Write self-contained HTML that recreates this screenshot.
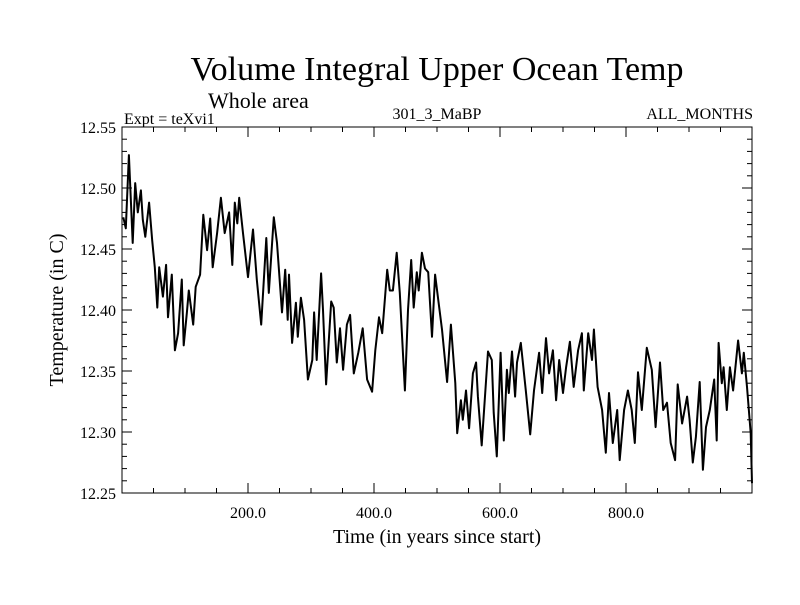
<!DOCTYPE html>
<html><head><meta charset="utf-8"><style>
body{margin:0;background:#fff}
svg text{font-family:"Liberation Serif",serif;fill:#000}
</style></head><body>
<svg id="chart" width="800" height="600" xmlns="http://www.w3.org/2000/svg">
<rect width="800" height="600" fill="#fff"/>
<text x="437" y="80" font-size="34" text-anchor="middle">Volume Integral Upper Ocean Temp</text>
<text x="208" y="108" font-size="22">Whole area</text>
<text x="124" y="124" font-size="16">Expt = teXvi1</text>
<text x="437" y="119" font-size="16" text-anchor="middle">301_3_MaBP</text>
<text x="753" y="119" font-size="16" text-anchor="end">ALL_MONTHS</text>
<text transform="translate(63,310) rotate(-90)" font-size="20" text-anchor="middle">Temperature (in C)</text>
<text x="437" y="543" font-size="20" text-anchor="middle">Time (in years since start)</text>
<g id="axes"></g>
<path id="series" fill="none" stroke="#000" stroke-width="2" stroke-linejoin="round"/>
<rect x="122" y="127" width="630" height="366" fill="none" stroke="#000" stroke-width="1"/>
</svg>
<script>
const years=[2,6,11,17,21,25,30,33,37,43,48,52,56,59,65,70,73,79,84,89,95,98,103,106,113,117,124,129,135,140,144,151,157,163,170,175,179,183,186,192,200,208,214,221,229,233,241,246,254,259,263,265,270,276,279,284,289,295,302,305,309,316,319,324,332,336,341,346,351,357,362,368,375,382,389,397,402,408,413,421,425,430,436,441,449,454,459,463,468,471,476,481,486,492,497,502,508,516,522,529,532,538,541,546,551,557,562,565,571,581,587,590,595,601,606,611,614,619,624,627,633,641,648,654,662,667,673,678,684,689,694,700,705,711,717,724,730,733,740,746,749,755,762,768,773,779,786,790,797,803,809,814,819,825,833,841,847,854,859,865,871,878,882,889,897,901,906,911,917,922,927,933,940,944,947,952,955,960,965,970,978,984,987,992,998,1000];
const temps=[12.476,12.467,12.527,12.455,12.504,12.480,12.498,12.474,12.460,12.488,12.457,12.435,12.402,12.435,12.411,12.437,12.394,12.429,12.367,12.381,12.425,12.371,12.398,12.416,12.388,12.419,12.429,12.478,12.449,12.475,12.435,12.463,12.492,12.463,12.480,12.437,12.488,12.471,12.492,12.463,12.427,12.466,12.425,12.388,12.459,12.414,12.476,12.455,12.398,12.433,12.392,12.429,12.373,12.406,12.378,12.410,12.392,12.343,12.359,12.398,12.359,12.430,12.400,12.339,12.407,12.402,12.357,12.385,12.351,12.388,12.396,12.348,12.365,12.385,12.343,12.333,12.367,12.394,12.381,12.433,12.416,12.416,12.447,12.414,12.334,12.400,12.441,12.402,12.431,12.416,12.447,12.434,12.431,12.378,12.429,12.408,12.384,12.341,12.388,12.340,12.299,12.326,12.310,12.334,12.303,12.348,12.357,12.329,12.289,12.366,12.359,12.316,12.280,12.365,12.293,12.351,12.332,12.366,12.329,12.357,12.373,12.334,12.298,12.334,12.365,12.332,12.377,12.348,12.367,12.326,12.359,12.332,12.353,12.374,12.337,12.367,12.381,12.334,12.381,12.359,12.384,12.337,12.318,12.283,12.332,12.291,12.318,12.277,12.318,12.334,12.318,12.291,12.349,12.318,12.369,12.351,12.304,12.357,12.318,12.324,12.291,12.277,12.339,12.307,12.329,12.310,12.275,12.296,12.341,12.269,12.304,12.318,12.343,12.293,12.373,12.340,12.353,12.318,12.353,12.334,12.375,12.348,12.365,12.337,12.299,12.258];
const yTickLabels=["12.25","12.30","12.35","12.40","12.45","12.50","12.55"];
const xTickLabels=["200.0","400.0","600.0","800.0"];
const X0=122,X1=752,Y0=493,Y1=127;
const xMin=0,xMax=1000,yMin=12.25,yMax=12.55;
function sx(v){return X0+(v-xMin)/(xMax-xMin)*(X1-X0);}
function sy(v){return Y0-(v-yMin)/(yMax-yMin)*(Y0-Y1);}
const NS="http://www.w3.org/2000/svg";
const ax=document.getElementById('axes');
function line(x1,y1,x2,y2,name){const l=document.createElementNS(NS,'line');
l.setAttribute('x1',x1);l.setAttribute('y1',y1);l.setAttribute('x2',x2);l.setAttribute('y2',y2);
l.setAttribute('stroke','#000');l.setAttribute('stroke-width','1');


ax.appendChild(l);}
function text(x,y,s,anchor,name){const t=document.createElementNS(NS,'text');
t.setAttribute('x',x);t.setAttribute('y',y);t.setAttribute('font-size','16');t.setAttribute('text-anchor',anchor);t.textContent=s;


ax.appendChild(t);}
for(let i=0;i<=30;i++){const v=yMin+i*0.01;const y=sy(v);const len=(i%5===0)?10:5;
line(X0,y,X0+len,y,'y-tick');line(X1,y,X1-len,y,'y-tick-right');}
yTickLabels.forEach(s=>{text(X0-6,sy(parseFloat(s))+6,s,'end','y-tick-label');});
for(let v=50;v<1000;v+=50){const x=sx(v);const len=(v%200===0)?10:5;
line(x,Y0,x,Y0-len,'x-tick');line(x,Y1,x,Y1+len,'x-tick-top');}
xTickLabels.forEach(s=>{text(sx(parseFloat(s)),518,s,'middle','x-tick-label');});
let d='';years.forEach((yr,i)=>{d+=(i?'L':'M')+sx(yr).toFixed(1)+','+sy(temps[i]).toFixed(1);});
document.getElementById('series').setAttribute('d',d);
</script>
</body></html>
